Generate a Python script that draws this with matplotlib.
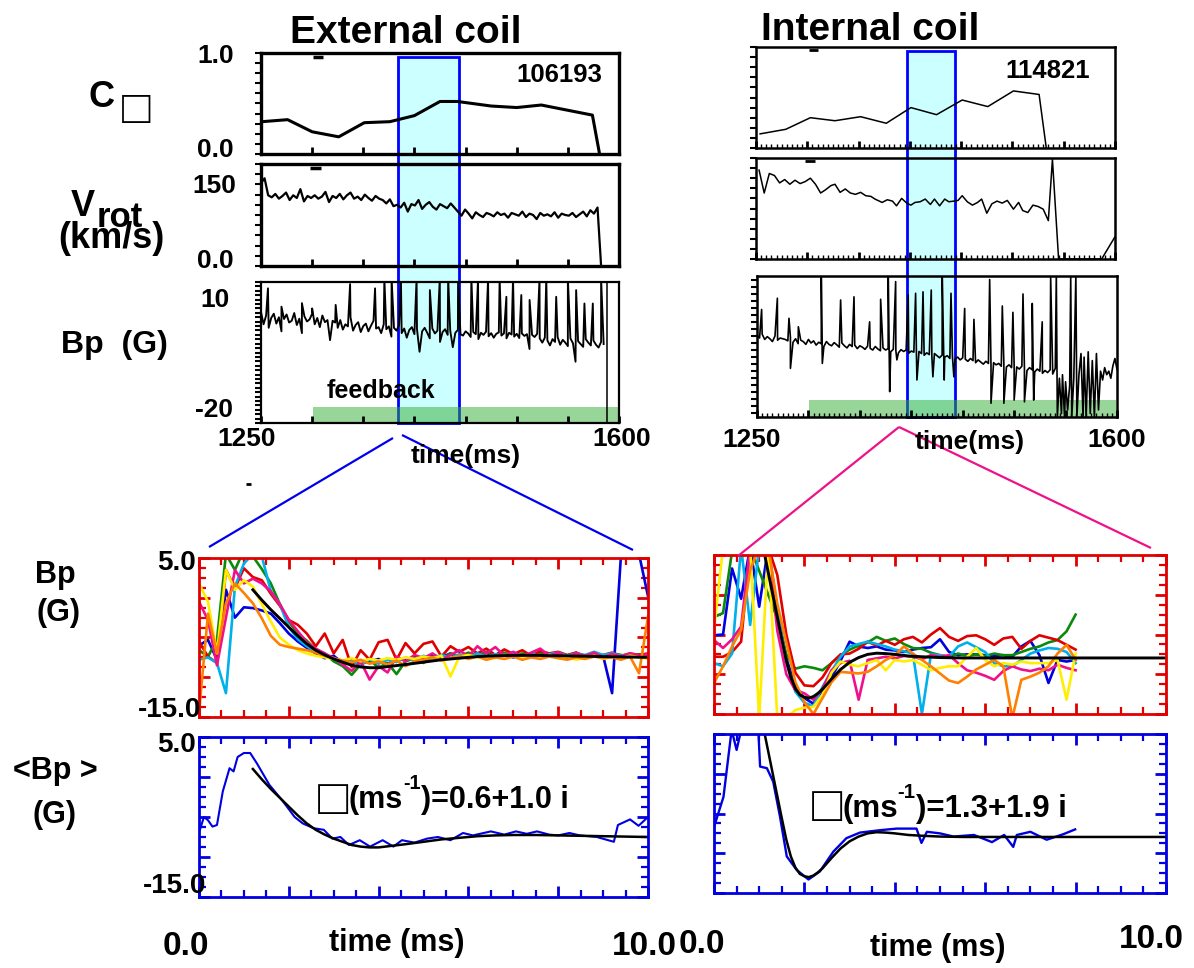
import numpy as np
import matplotlib
matplotlib.use("Agg")
import matplotlib.pyplot as plt
from matplotlib import font_manager
from matplotlib.patches import Rectangle
from matplotlib.lines import Line2D
from matplotlib.transforms import blended_transform_factory
from matplotlib.ticker import MultipleLocator, NullLocator

# ------------------------------------------------------------------ data
# C_beta (top row)
c_ext_t = [1251, 1276, 1300, 1326, 1351, 1376, 1400, 1425, 1442, 1475, 1500, 1524, 1549, 1574, 1581]
c_ext_v = [0.32, 0.34, 0.22, 0.17, 0.31, 0.32, 0.38, 0.52, 0.52, 0.475, 0.46, 0.485, 0.435, 0.385, 0.0]
c_int_t = [1254, 1279, 1303, 1327, 1352, 1377, 1401, 1426, 1451, 1476, 1501, 1526, 1533]
c_int_v = [0.14, 0.185, 0.30, 0.27, 0.31, 0.245, 0.40, 0.33, 0.475, 0.41, 0.565, 0.53, 0.0]

# V_rot (km/s)
vrot_ext_t0, vrot_ext_dt = 1250.0, 3.5
vrot_ext_v = [122, 129,
              104, 101, 106, 99, 103, 108, 97, 104, 100, 113, 95, 103, 100, 104, 99, 102, 109, 94, 103, 100,
              106, 98, 104, 108, 99, 102, 97, 105, 100, 96, 103, 99, 97,
              92, 98, 88, 90, 86, 93, 80, 91, 89, 97, 84, 90, 94, 87, 83, 91, 88, 85, 92, 86,
              80, 74, 83, 77, 70, 79, 75, 72, 78, 76, 73, 79, 75, 77, 71, 78, 76, 74, 80, 72,
              77, 75, 69, 78, 74, 76, 73, 79, 71, 77, 75, 74, 78, 72, 76, 80, 73, 82, 77,
              86, 0]
vrot_int_t = [1253, 1258, 1263, 1268, 1273, 1278, 1283, 1288, 1293, 1298, 1303, 1308, 1313, 1318, 1323,
              1327, 1332, 1337, 1342, 1347, 1352, 1357, 1362, 1366, 1373, 1378, 1383, 1387, 1392, 1397,
              1401, 1405, 1410, 1415, 1420, 1424, 1429, 1434, 1438, 1443, 1447, 1451, 1456, 1461, 1466,
              1470, 1475, 1480, 1485, 1490, 1495, 1501, 1506, 1510, 1515, 1520, 1525, 1530, 1535, 1539,
              1545, 1587, 1600]
vrot_int_v = [132, 98, 127, 124, 113, 118, 111, 117, 112, 115, 120, 111, 98, 103, 109,
              111, 99, 104, 98, 96, 99, 94, 93, 89, 84, 88, 86, 79, 90, 83,
              80, 84, 85, 89, 81, 89, 79, 89, 85, 86, 87, 94, 85, 80, 84,
              89, 68, 82, 86, 83, 87, 74, 84, 72, 69, 80, 78, 74, 57, 148,
              0, 0, 33]

# B_p (G), long time traces: sampled base + spikes
bp_ext_t0, bp_ext_dt = 1250.0, 2.5
bp_ext_v = [6.5, 3.0, 5.5, 2.0, 4.8, 6.0, 3.2, 5.0, 1.0, 4.5, 5.8, 3.5, 4.0, 6.2, 2.8, 4.6, 0.5, 5.2, 3.8, 4.4,
            6.0, 3.0, 4.8, 2.2, 5.5, 3.6, 4.2, -1.5, 4.0,
            3.5, 2.0, 4.2, 1.5, 3.0, 2.4, 5.0, 1.2, 2.8, 3.6, 0.8, 2.5, 3.2, 1.0, 2.6, 4.0, 1.8, 2.2, 0.5, 3.0,
            1.6, 2.4, -0.5, 2.0, 1.2, 2.8,
            0.5, 1.8, -0.8, 1.4, 2.2, 0.2, 1.6, -4.8, 1.0, 2.0, 0.6, -1.0, 1.8, 0.4, 1.2, -2.0, 0.8, 1.6, 0.0, 1.2,
            -3.5, 0.6, 1.4, 0.2,
            -0.2, 1.0, 0.4, -0.6, 0.8, 0.2, -1.2, 0.6, 0.0, 0.9, -0.4, 0.5, -0.8, 0.3, 0.7, -0.2, 0.4, -1.0, 0.6, 0.1,
            -0.5, 0.3, -0.9, 0.4, -0.3, 0.2, -4.0, 0.0, -0.6, 0.3,
            -1.0, -2.2, -0.8, -1.6, -3.0, -1.2, -2.0, -0.6, -2.8, -1.4, -2.2, -3.2, -1.0, -2.4, -7.6, -1.8, -2.6,
            -3.4, -1.2, -2.2, -3.0, -1.6, -2.8, -3.6, -2.0, -2.6]
bp_ext_spike_t = [1256.8, 1270.0, 1290.0, 1300.0, 1323.0, 1337.1, 1361.5, 1370.6, 1377.7, 1386.8, 1402.1,
                  1415.1, 1424.8, 1433.0, 1442.7, 1455.7, 1462.2, 1472.0, 1483.3, 1489.9, 1496.4, 1504.5,
                  1512.6, 1522.3, 1528.9, 1538.6, 1550.0, 1558.1, 1566.2, 1574.4, 1582.5]
bp_ext_spike_v = [13.2, 8.0, 9.0, 7.5, 8.5, 14.4, 13.2, 16, 16, 16, 16,
                  12.7, 16, 16, 16, 16, 16, 16, 16, 10.8, 16, 11.3,
                  9.9, 16, 16, 10.8, 16, 12.7, 8.9, 8.9, 16]
bp_ext_cut_t = [1588, 1588]
bp_ext_cut_v = [15, -25]

bp_int_t0, bp_int_dt = 1250.0, 2.5
bp_int_v = [-1.8, -2.6, -1.5, -3.0, -2.2, -2.8, -3.6, -2.0, -3.2, -2.6, -2.8, -3.0, -3.4, -2.4, -3.8, -2.8, -4.2,
            -3.2, -3.6, -4.4, -3.0,
            -4.0, -3.4, -4.6, -3.8, -4.2, -5.0, -3.6, -4.4, -4.8, -3.9, -4.5, -5.2, -4.0, -4.8, -5.4, -4.4, -5.0,
            -4.6, -5.6, -4.8,
            -5.2, -5.8, -4.9, -5.5, -6.0, -5.0, -5.7, -6.2, -5.4, -6.0, -5.6, -6.5, -5.8, -6.2, -6.8, -5.9, -6.4,
            -6.0, -6.9, -6.3,
            -6.6, -7.2, -6.4, -7.0, -7.5, -6.8, -7.3, -7.8, -7.0, -7.6, -8.2, -7.4, -8.0, -7.6, -8.4, -7.8, -8.6,
            -8.0, -8.8, -8.2,
            -8.6, -9.2, -8.4, -9.0, -9.6, -8.8, -9.4, -10.0, -9.2, -9.8, -10.4, -9.6, -10.2, -9.8, -10.6, -10.0,
            -10.8, -10.2, -11.0, -10.4,
            -10.8, -11.4, -10.6, -11.2, -11.8, -11.0, -11.6, -12.2, -11.4, -12.0, -12.6, -11.8, -12.4, -11.6,
            -12.8, -11.2]
bp_int_spike_t = [1254.5, 1269.8, 1281.1, 1282.5, 1290.2, 1312.5, 1313.5, 1331.3, 1344.3, 1359.5,
                  1370.2, 1377.6, 1379.0, 1384.8, 1386.0, 1397.0, 1404.2, 1405.5, 1411.4, 1419.4,
                  1421.0, 1430.1, 1432.0, 1438.6, 1441.4, 1451.9, 1460.9, 1476.2, 1477.5, 1488.5,
                  1490.0, 1498.8, 1500.0, 1508.6, 1510.0, 1517.6, 1519.0, 1527.3, 1535.5]
bp_int_spike_v = [5.5, 8.7, 3.0, -11.2, 0.6, 14.8, -9.8, 8.2, 9.1, 2.0,
                  8.4, 14.6, -17.8, 13.4, -8.8, 9.6, 10.1, -14.5, 10.5, 11.0,
                  -13.6, 14.6, -14.5, 10.1, -13.6, 5.8, 2.7, 14.0, -21.1, 6.5,
                  -21.1, 4.7, -20.2, 9.9, -20.7, 7.2, -20.2, 2.0, 14.6]
bp_int_tail_t = [1541, 1542, 1544, 1546, 1547, 1549, 1550, 1552, 1554, 1555, 1556, 1558, 1560, 1561, 1563,
                 1565, 1567, 1568, 1570, 1572, 1574, 1576, 1578, 1580, 1582, 1584, 1586, 1588, 1590, 1592,
                 1594, 1596, 1598, 1600]
bp_int_tail_v = [15, -25, -14, -24, -13, -25, -15, -23, -16, 15, -25, -14, 15, -25, -13,
                 -7, -25, -8, -25, -6.5, -24, -9, -25, -7, -23, -12, -14.5, -11, -13, -12,
                 -14, -10.5, -8.4, -11.5]

# highlighted window and feedback period (ms)
window_ext = (1384, 1444)
window_int = (1397, 1444)
feedback_ext = (1301, 1600)
feedback_int = (1301, 1599)

# zoomed B_p traces (G) vs time (ms)
zoom_ext_t0, zoom_ext_dt = 0.0, 0.2
ext_blue = [-6.0, -5.3, -7.8, 1.0, -2.5, -1.2, -1.3, -1.6, -2.0, -3.2, -4.5, -5.5, -6.3, -7.0, -7.6, -7.3, -8.2,
            -7.8, -8.3, -8.0, -7.7, -8.4, -7.6, -7.9, -7.4, -7.8, -7.2, -7.5, -7.0, -7.6, -7.2, -7.4, -7.0, -7.3,
            -7.1, -7.5, -7.2, -7.4, -7.0, -7.3, -7.1, -7.5, -7.2, -7.4, -7.1, -7.3, -12.0, 5.5, 8.0, 5.5, 0.2]
ext_green = [-6.6, -7.4, -5.3, 5.5, 3.5, 6.0, 5.2, 3.6, 1.8, -0.8, -3.0, -4.5, -5.4, -6.5, -7.0, -8.0, -8.6, -9.7,
             -8.4, -7.8, -8.8, -8.2, -9.6, -8.0, -7.6, -8.2, -7.4, -7.8, -7.0, -7.4, -6.9, -7.3, -6.8, -7.2, -6.9,
             -7.4, -7.0, -7.3, -6.9, -7.2, -7.0, -7.3, -6.9, -7.4, -7.1, -7.3, -7.0, -7.2, -7.4, -7.1, -7.3]
ext_red = [-5.5, -7.4, -8.2, 3.5, 1.2, 3.7, 2.6, 2.2, 0.5, -1.0, -2.8, -3.4, -4.5, -6.1, -4.5, -7.0, -5.3, -8.7,
           -6.6, -7.8, -5.6, -5.3, -7.8, -5.7, -7.0, -5.8, -5.5, -7.4, -6.1, -6.8, -6.2, -7.0, -6.4, -7.2, -6.5,
           -7.1, -6.6, -7.3, -6.7, -7.0, -6.8, -7.2, -6.9, -7.4, -7.0, -7.2, -6.9, -7.3, -7.0, -7.2, -7.0]
ext_cyan = [-7.8, -7.5, -8.2, -12.0, 1.4, 4.3, 5.5, 5.2, 0.8, -0.8, -3.7, -5.2, -6.1, -6.8, -7.2, -7.6, -8.4, -7.9,
            -8.5, -7.7, -8.3, -7.8, -8.1, -7.5, -7.9, -7.3, -7.7, -7.2, -7.6, -7.1, -7.5, -7.0, -7.4, -7.1, -7.3,
            -6.9, -7.3, -7.0, -7.4, -7.1, -6.9, -7.3, -7.0, -7.2, -6.8, -7.2, -7.0, -7.3, -7.1, -7.4, -7.2]
ext_magenta = [-0.5, -2.8, -8.5, -2.5, 3.5, 1.8, 2.4, 1.8, 0.8, -0.8, -2.8, -4.2, -5.6, -6.4, -7.0, -7.6, -8.4,
               -9.2, -8.0, -10.3, -8.6, -9.4, -7.4, -8.0, -7.2, -7.6, -7.0, -7.8, -7.2, -6.6, -7.4, -6.1, -7.0,
               -6.2, -7.3, -6.8, -7.4, -6.9, -6.4, -7.3, -6.9, -7.5, -7.0, -7.3, -6.9, -7.5, -7.1, -7.4, -7.0,
               -7.3, -7.1]
ext_yellow = [1.8, -0.5, -7.0, 3.5, 1.0, 2.2, 1.4, -0.8, -3.0, -5.0, -5.9, -6.6, -7.0, -7.3, -7.5, -7.7, -7.9,
              -7.6, -8.0, -7.7, -7.9, -7.6, -7.8, -7.5, -7.7, -7.4, -7.6, -7.3, -9.9, -7.4, -7.2, -7.5, -7.3,
              -7.6, -7.2, -7.4, -7.6, -7.3, -7.5, -7.2, -7.6, -7.4, -7.8, -7.5, -7.3, -7.7, -7.4, -7.6, -7.3,
              -7.5, -7.7]
ext_orange = [-14.5, -2.0, -7.0, -0.7, 1.8, 0.6, -0.7, -2.6, -4.8, -5.9, -6.2, -6.4, -6.6, -6.9, -7.3, -7.6, -7.9,
              -8.1, -7.8, -8.3, -8.0, -8.4, -7.9, -8.6, -8.0, -7.8, -7.5, -7.9, -7.6, -7.3, -7.7, -7.4, -7.8,
              -7.5, -7.7, -7.4, -7.8, -7.5, -7.7, -7.4, -7.6, -7.8, -7.5, -7.7, -7.4, -7.6, -7.5, -7.8, -7.4,
              -9.5, -2.4]

zoom_int_t0, zoom_int_dt = 0.0, 0.2
int_red = [-7.8, -7.8, -7.2, -5.9, 6.0, 6.0, 6.0, 2.5, -5.0, -9.8, -11.4, -11.5, -10.4, -8.6, -7.5, -7.4, -6.8,
           -5.9, -6.4, -5.8, -6.3, -5.6, -5.3, -6.0, -5.0, -4.2, -5.3, -5.8, -5.2, -5.1, -5.6, -6.3, -5.5, -5.3,
           -6.8, -5.8, -5.1, -5.4, -5.7, -6.3, -6.9]
int_green = [-2.8, -2.3, 5.5, 6.0, 6.0, 3.0, 0.0, -3.0, -7.5, -9.3, -9.0, -9.2, -9.5, -8.6, -7.6, -6.9, -6.4,
             -6.0, -5.3, -5.8, -5.5, -6.2, -6.7, -6.8, -7.3, -7.6, -7.8, -7.4, -7.7, -7.5, -7.7, -7.4, -7.6,
             -7.6, -7.2, -6.8, -6.5, -6.0, -5.7, -4.6, -2.5]
int_blue = [-5.1, -5.0, 3.3, -0.5, 6.0, -1.5, 6.0, -2.0, -8.0, -11.5, -13.0, -13.7, -12.0, -10.4, -8.3, -5.9,
            -6.5, -6.7, -6.5, -6.9, -7.0, -7.2, -6.9, -6.7, -6.6, -5.6, -7.2, -7.6, -7.5, -7.5, -7.6, -7.7, -7.6,
            -7.8, -6.5, -5.8, -7.6, -11.1, -8.2, -8.4, -8.2]
int_cyan = [-8.6, -9.0, -7.4, 6.0, -3.8, 6.0, 6.0, -2.0, -8.5, -12.2, -13.6, -14.0, -11.6, -9.6, -7.8, -6.5,
            -6.2, -5.9, -6.2, -6.5, -6.9, -7.1, -7.4, -15.0, -7.5, -7.6, -7.8, -6.5, -6.0, -6.6, -7.2, -8.6,
            -9.0, -9.0, -8.2, -7.4, -7.0, -6.7, -6.8, -7.2, -8.6]
int_magenta = [-5.7, -6.7, -5.6, -4.0, 6.0, 6.0, 6.0, -4.5, -10.0, -12.0, -12.4, -13.2, -11.8, -9.5, -8.6,
               -8.3, -13.2, -8.2, -8.0, -7.8, -8.0, -7.7, -7.8, -8.1, -7.6, -7.8, -7.6, -8.6, -9.5, -9.8,
               -10.2, -10.7, -9.6, -9.0, -9.4, -9.6, -9.3, -9.5, -8.8, -9.2, -9.5]
int_yellow = [-4.4, 6.0, 6.0, 6.0, 6.0, -15.5, 6.0, -15.5, -15.5, -14.5, -14.2, -14.1, -12.6, -9.8, -8.4,
              -8.8, -9.0, -8.6, -8.2, -9.5, -8.2, -8.4, -8.2, -8.8, -9.5, -9.2, -9.0, -9.0, -7.8, -6.7, -8.2,
              -9.0, -8.6, -8.8, -8.4, -8.6, -8.6, -8.6, -8.2, -13.2, -7.4]
int_orange = [-11.1, -9.0, -6.5, -4.4, 3.1, 6.0, 6.0, -1.1, -6.0, -11.0, -13.5, -15.0, -13.0, -11.0, -9.7,
              -9.8, -9.9, -9.7, -9.0, -8.2, -7.6, -6.5, -7.4, -8.2, -9.0, -9.9, -10.8, -11.1, -10.3, -9.4,
              -8.8, -8.2, -9.0, -15.5, -10.7, -10.3, -9.8, -9.0, -7.4, -6.3, -8.2]

# averaged <Bp> (G)
avg_ext_t = [0.02, 0.11, 0.2, 0.3, 0.4, 0.53, 0.68, 0.77, 0.86, 1.0, 1.14, 1.29, 1.57, 1.85, 2.13, 2.31, 2.55,
             2.78, 2.97, 3.15, 3.34, 3.58, 3.81, 4.09, 4.33, 4.52, 4.8, 5.08, 5.32, 5.6, 5.88, 6.1, 6.5, 6.8,
             7.06, 7.3, 7.53, 7.8, 8.0, 8.25, 8.48, 8.86, 9.24, 9.33, 9.6, 9.79, 10.0]
avg_ext_v = [-6.6, -5.0, -5.4, -6.2, -6.0, -1.8, 1.1, 0.7, 2.5, 3.0, 3.0, 1.7, -1.0, -2.9, -5.0, -5.8, -6.4,
             -6.6, -7.7, -7.5, -8.5, -7.9, -8.7, -7.9, -8.7, -7.9, -8.2, -7.7, -7.5, -7.9, -7.0, -7.3, -6.8,
             -7.2, -6.8, -7.1, -6.8, -7.2, -7.3, -7.0, -7.3, -7.5, -8.1, -6.0, -5.3, -6.1, -5.0]
avg_int_t = [0.0, 0.21, 0.39, 0.5, 0.6, 0.98, 1.02, 1.17, 1.31, 1.46, 1.61, 1.83, 2.09, 2.34, 2.64, 2.93, 3.23,
             3.67, 4.04, 4.48, 4.59, 4.71, 5.0, 5.3, 5.75, 6.15, 6.42, 6.62, 6.7, 7.0, 7.36, 7.73, 7.99]
avg_int_v = [-6.7, -2.9, 5.5, 3.0, 5.5, 5.5, 0.9, 0.7, -1.0, -5.4, -10.4, -12.1, -13.3, -12.3, -9.8, -8.1, -7.4,
             -7.1, -6.9, -6.9, -8.7, -7.3, -7.5, -7.9, -7.7, -8.6, -7.7, -9.2, -7.7, -7.3, -8.3, -7.6, -7.0]

# damped-oscillation fits
fit_ext_t = [1.2, 1.4, 1.6, 1.8, 2.0, 2.2, 2.4, 2.6, 2.8, 3.0, 3.2, 3.4, 3.6, 3.8, 4.0, 4.3, 4.6, 5.0, 5.4, 5.8,
             6.2, 6.6, 7.0, 7.5, 8.0, 8.5, 9.0, 9.5, 10.0]
fit_ext_v = [1.0, -0.3, -1.5, -2.6, -3.7, -4.8, -5.8, -6.6, -7.2, -7.7, -8.1, -8.5, -8.7, -8.8, -8.8, -8.6, -8.4,
             -8.1, -7.8, -7.6, -7.4, -7.3, -7.25, -7.25, -7.3, -7.35, -7.4, -7.45, -7.5]
fit_int_t = [1.1, 1.2, 1.3, 1.4, 1.5, 1.6, 1.7, 1.8, 1.9, 2.0, 2.1, 2.2, 2.3, 2.4, 2.6, 2.8, 3.0, 3.2, 3.4, 3.6,
             3.8, 4.0, 4.3, 4.6, 5.0, 5.5, 6.0, 7.0, 8.0, 9.0, 10.0]
fit_int_v = [5.6, 2.8, 0.0, -2.8, -5.6, -8.3, -10.4, -11.8, -12.6, -12.9, -13.0, -12.8, -12.4, -11.9, -10.6,
             -9.4, -8.5, -7.9, -7.5, -7.35, -7.4, -7.5, -7.7, -7.8, -7.9, -7.95, -7.95, -7.95, -7.95, -7.95,
             -7.95]

gamma_ext = '0.6+1.0 i'
gamma_int = '1.3+1.9 i'

# ------------------------------------------------------------------ figure
W, H = 1194, 968
plt.rcParams['font.family'] = ['Liberation Sans', 'DejaVu Sans']

_names = {f.name for f in font_manager.fontManager.ttflist}
NARROW = 'Liberation Sans Narrow' if 'Liberation Sans Narrow' in _names else None

fig = plt.figure(figsize=(W / 100, H / 100), dpi=100)
fig.patch.set_facecolor('white')

COL = dict(blue='#0000e0', green='#0a8a0a', red='#e00000', cyan='#00b0ea',
           magenta='#f0108a', yellow='#ffee00', orange='#ff8000')


def add_ax(x0, y0, x1, y1):
    ax = fig.add_axes([x0 / W, 1 - y1 / H, (x1 - x0) / W, (y1 - y0) / H])
    ax.set_facecolor('none')
    return ax


def txt(x, y, s, size, ha='left', va='baseline', color='black', family=None):
    kw = {'family': family} if family else {}
    return fig.text(x / W, 1 - y / H, s, fontsize=size, ha=ha, va=va, color=color,
                    fontweight='bold', **kw)


def chain(x, y, parts, family=None):
    """Write consecutive pieces of text; each piece: (string, size, raise in px)."""
    r = fig.canvas.get_renderer()
    for s, size, dy in parts:
        t = txt(x, y - dy, s, size, family=family)
        x += t.get_window_extent(renderer=r).width


def seg(x0, y0, x1, y1, color, lw):
    fig.add_artist(Line2D([x0 / W, x1 / W], [1 - y0 / H, 1 - y1 / H], transform=fig.transFigure,
                          color=color, lw=lw, solid_capstyle='butt'))


def merged(t0, dt, base, sp_t, sp_v):
    tb = t0 + dt * np.arange(len(base))
    t = np.concatenate([tb, np.asarray(sp_t, float)])
    v = np.concatenate([np.asarray(base, float), np.asarray(sp_v, float)])
    o = np.argsort(t, kind='stable')
    return t[o], v[o]


def style_top(ax, ylim, ystep, spine_lw, xminor=None):
    ax.set_xlim(1250, 1600)
    ax.set_ylim(*ylim)
    for s in ax.spines.values():
        s.set_linewidth(spine_lw)
    ax.xaxis.set_major_locator(MultipleLocator(50))
    ax.xaxis.set_minor_locator(MultipleLocator(xminor) if xminor else NullLocator())
    ax.yaxis.set_major_locator(MultipleLocator(ystep))
    ax.yaxis.set_minor_locator(NullLocator())
    ax.tick_params(axis='x', which='major', direction='in', length=5, width=2)
    ax.tick_params(axis='x', which='minor', direction='in', length=3, width=1)
    ax.tick_params(axis='y', which='major', direction='out', length=4, width=1.5)
    ax.tick_params(labelbottom=False, labelleft=False)


def style_bottom(ax, color, xmax=10):
    ax.set_xlim(0, xmax)
    ax.set_ylim(-15, 5)
    for s in ax.spines.values():
        s.set_color(color)
        s.set_linewidth(2)
    ax.xaxis.set_major_locator(MultipleLocator(2))
    ax.xaxis.set_minor_locator(MultipleLocator(0.5))
    ax.yaxis.set_major_locator(MultipleLocator(5))
    ax.yaxis.set_minor_locator(MultipleLocator(1.25))
    ax.tick_params(which='both', direction='in', top=True, right=True, color=color,
                   labelbottom=False, labelleft=False)
    ax.tick_params(which='major', length=8, width=2)
    ax.tick_params(which='minor', length=5, width=1.6)


# ---------------- top-left (external coil)
axC_L = add_ax(261, 53, 619, 154)
axC_L.plot(c_ext_t, c_ext_v, color='k', lw=2.2, zorder=3)
style_top(axC_L, (0, 1), 0.1, 2.4)

axV_L = add_ax(261, 164, 619, 266)
tv = vrot_ext_t0 + vrot_ext_dt * np.arange(len(vrot_ext_v))
axV_L.plot(tv, vrot_ext_v, color='k', lw=1.6, zorder=3)
style_top(axV_L, (0, 150), 15, 2.4)

axB_L = add_ax(261, 282, 619, 423)
tb, vb = merged(bp_ext_t0, bp_ext_dt, bp_ext_v, bp_ext_spike_t, bp_ext_spike_v)
axB_L.plot(tb, vb, color='k', lw=1.35, zorder=3)
axB_L.plot(bp_ext_cut_t, bp_ext_cut_v, color='k', lw=1.1, zorder=3)
axB_L.add_patch(Rectangle((feedback_ext[0], -25), feedback_ext[1] - feedback_ext[0], 4.5,
                          facecolor=(0.2, 0.68, 0.2), alpha=0.5, lw=0, zorder=1))
style_top(axB_L, (-25, 15), 1.25, 1.6)

# ---------------- top-right (internal coil)
axC_R = add_ax(756, 47, 1115, 148)
axC_R.plot(c_int_t, c_int_v, color='k', lw=1.1, zorder=3)
style_top(axC_R, (0, 1), 0.1, 1.8, xminor=5)

axV_R = add_ax(756, 158, 1115, 259)
axV_R.plot(vrot_int_t, vrot_int_v, color='k', lw=1.1, zorder=3)
style_top(axV_R, (0, 150), 15, 1.8, xminor=5)

axB_R = add_ax(757, 276, 1117, 417)
tb, vb = merged(bp_int_t0, bp_int_dt, bp_int_v, bp_int_spike_t, bp_int_spike_v)
tb = np.concatenate([tb, bp_int_tail_t])
vb = np.concatenate([vb, bp_int_tail_v])
axB_R.plot(tb, vb, color='k', lw=1.2, zorder=3)
axB_R.add_patch(Rectangle((feedback_int[0], -25), feedback_int[1] - feedback_int[0], 4.8,
                          facecolor=(0.2, 0.68, 0.2), alpha=0.5, lw=0, zorder=1))
style_top(axB_R, (-25, 15), 2, 1.8, xminor=5)

# highlighted windows (span across the three stacked panels)
for ax_ref, (w0, w1), ytop, ybot in [(axC_L, window_ext, 57, 423), (axC_R, window_int, 51, 417)]:
    tr = blended_transform_factory(ax_ref.transData, fig.transFigure)
    fig.add_artist(Rectangle((w0, 1 - ybot / H), w1 - w0, (ybot - ytop) / H, transform=tr,
                             facecolor='#ccffff', edgecolor='#0000ff', lw=2, zorder=-1))

# ---------------- bottom panels
ext_traces = [(ext_blue, 'blue'), (ext_green, 'green'), (ext_red, 'red'), (ext_cyan, 'cyan'),
              (ext_magenta, 'magenta'), (ext_yellow, 'yellow'), (ext_orange, 'orange')]
int_traces = [(int_blue, 'blue'), (int_green, 'green'), (int_red, 'red'), (int_cyan, 'cyan'),
              (int_magenta, 'magenta'), (int_yellow, 'yellow'), (int_orange, 'orange')]

axZ_L = add_ax(199, 558, 648, 717)
for vals, c in ext_traces:
    t = zoom_ext_t0 + zoom_ext_dt * np.arange(len(vals))
    axZ_L.plot(t, vals, color=COL[c], lw=1.9)
axZ_L.plot(fit_ext_t, fit_ext_v, color='k', lw=2.1)
style_bottom(axZ_L, '#e00000')

axA_L = add_ax(199, 737, 648, 897)
axA_L.plot(avg_ext_t, avg_ext_v, color='#0000e0', lw=1.5)
axA_L.plot(fit_ext_t, fit_ext_v, color='k', lw=1.8)
style_bottom(axA_L, '#0000e0')

axZ_R = add_ax(714, 555, 1166, 714)
for vals, c in int_traces:
    t = zoom_int_t0 + zoom_int_dt * np.arange(len(vals))
    axZ_R.plot(t, vals, color=COL[c], lw=1.9)
axZ_R.plot(fit_int_t, fit_int_v, color='k', lw=2.1)
style_bottom(axZ_R, '#e00000')

axA_R = add_ax(714, 734, 1166, 893)
axA_R.plot(avg_int_t, avg_int_v, color='#0000e0', lw=1.7)
axA_R.plot(fit_int_t, fit_int_v, color='k', lw=1.8)
style_bottom(axA_R, '#0000e0')

# ---------------- connecting lines and small marks
seg(393, 438, 209, 547, '#0000ee', 1.6)
seg(402, 435, 633, 550, '#0000ee', 1.6)
seg(899, 427, 738, 556, '#ee1188', 1.6)
seg(899, 427, 1151, 548, '#ee1188', 1.6)
seg(313, 57, 323, 57, 'k', 2.5)
seg(310, 168, 321, 168, 'k', 2.5)
seg(809, 50, 818, 50, 'k', 2)
seg(805, 161, 815, 161, 'k', 2)
seg(246, 484, 251, 484, 'k', 2)

# ---------------- texts
txt(406, 43, 'External coil', 28, ha='center')
txt(870, 40, 'Internal coil', 28, ha='center')
txt(559, 82, '106193', 18.5, ha='center')
txt(1048, 78, '114821', 18.5, ha='center')

txt(234, 63, '1.0', 19, ha='right')
txt(234, 157, '0.0', 19, ha='right')
txt(236, 193, '150', 19, ha='right')
txt(234, 268, '0.0', 19, ha='right')
txt(230, 307, '10', 19, ha='right')
txt(233, 417, '-20', 19, ha='right')
txt(247, 446, '1250', 19, ha='center')
txt(622, 446, '1600', 19, ha='center')
txt(466, 463, 'time(ms)', 19, ha='center')
txt(752, 447, '1250', 19, ha='center')
txt(1117, 447, '1600', 19, ha='center')
txt(970, 449, 'time(ms)', 19, ha='center')
txt(327, 398, 'feedback', 18)

txt(89, 107, 'C', 26)
txt(122, 123, '\u25a1', 34)
txt(71, 216, 'V', 26)
txt(97, 227, 'rot', 25)
txt(111, 248, '(km/s)', 26, ha='center')
txt(61, 353, 'Bp  (G)', 23)

txt(55, 583, 'Bp', 22, ha='center')
txt(59, 621, '(G)', 22, ha='center')
txt(55, 779, '<Bp >', 22, ha='center')
txt(55, 823, '(G)', 22, ha='center')
txt(196, 570, '5.0', 20, ha='right')
txt(201, 717, '-15.0', 20, ha='right')
txt(196, 752, '5.0', 20, ha='right')
txt(206, 893, '-15.0', 20, ha='right')
txt(186, 955, '0.0', 24, ha='center')
txt(397, 951, 'time (ms)', 22, ha='center')
txt(644, 955, '10.0', 24, ha='center')
txt(702, 953, '0.0', 24, ha='center')
txt(938, 956, 'time (ms)', 22, ha='center')
txt(1151, 948, '10.0', 24, ha='center')

if NARROW:
    fam = [NARROW, 'DejaVu Sans']
    s_l, s_r = 25, 27
else:
    fam = None
    s_l, s_r = 22, 22.5
txt(318, 814, '\u25a1', 36)
chain(349, 808, [('(ms', s_l, 0), ('-1', s_l * 0.65, 0.62 * s_l * 1.389), (')=' + gamma_ext, s_l, 0)], fam)
txt(812, 821, '\u25a1', 36)
chain(842, 817, [('(ms', s_r, 0), ('-1', s_r * 0.65, 0.62 * s_r * 1.389), (')=' + gamma_int, s_r, 0)], fam)

fig.savefig('out.png', dpi=100)
